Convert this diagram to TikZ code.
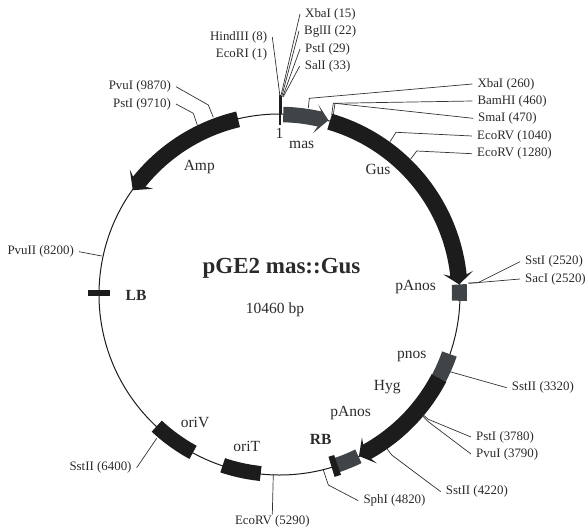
\documentclass[tikz,border=0pt]{standalone}
\usepackage{fontspec}
\setmainfont{Liberation Serif}
\newcommand\bandarc[4]{\draw[line width=#3,color=#4] plot[domain=#1:#2,samples=40] ({279.5+180*sin(\x)},{294.5-180*cos(\x)});}
\newcommand\headtip[4]{\fill[#4,shift={(279.5,294.5)}] ({#1-90}:{180-7}) -- ({#1-0.35*(#2-#1)-90}:{180-#3}) -- ({#2-90}:180) -- ({#1-0.35*(#2-#1)-90}:{180+#3}) -- ({#1-90}:{180+7}) -- cycle;}
\definecolor{ink}{HTML}{1C1C1C}
\definecolor{boxgrey}{HTML}{404447}
\definecolor{txt}{HTML}{2A2A2A}
\definecolor{lead}{HTML}{333333}
\tikzset{
  lab/.style={font=\fontsize{12.9}{14}\selectfont,text=txt,inner xsep=5pt,inner ysep=1pt},
  inner/.style={font=\fontsize{15.5}{17}\selectfont,text=txt,inner sep=0pt},
  innerb/.style={font=\fontsize{15.5}{17}\selectfont\bfseries,text=txt,inner sep=0pt},
  leader/.style={draw=lead,line width=0.7pt}
}
\begin{document}
\begin{tikzpicture}[x=1pt,y=-1pt]
\useasboundingbox (0,0) rectangle (586,528);
\coordinate (c) at (279.5,294.5);
\draw[ink,line width=1pt] (c) circle[radius=180.5];
% features
\bandarc{1.2}{13}{15.5pt}{boxgrey}
\fill[boxgrey,shift={(279.5,294.5)}] ({12.8-90}:172.5) -- ({11.8-90}:165) -- ({15.7-90}:181) -- ({11.5-90}:194) -- ({12.8-90}:188) -- cycle;
\bandarc{16.2}{84.3}{16.5pt}{ink}
\headtip{84}{86.8}{15}{ink}
\bandarc{86.8}{92}{15pt}{boxgrey}
\bandarc{109.3}{117.6}{15.5pt}{boxgrey}
\bandarc{117.6}{151.2}{16.5pt}{ink}
\headtip{151}{153.8}{15}{ink}
\bandarc{154}{161.4}{15pt}{boxgrey}
\bandarc{161.2}{163.2}{21pt}{ink}
\bandarc{186}{198.4}{15pt}{ink}
\bandarc{208.7}{223}{15pt}{ink}
\bandarc{308.5}{346.7}{16pt}{ink}
\headtip{308.7}{305.4}{15}{ink}
\fill[ink] (88.3,289.7) rectangle (110,295.7);
% origin tick
\draw[ink,line width=1.2pt] (280,95) -- (280,125);
\draw[ink,line width=1.2pt] (281.5,96) -- (281.5,114);
% labels
\node[lab,anchor=east] (hind) at (272.3,37) {HindIII (8)};
\node[lab,anchor=east] (ecori) at (272.3,54) {EcoRI (1)};
\node[lab,anchor=west] (xba15) at (300,14) {XbaI (15)};
\node[lab,anchor=west] (bgl) at (299,31) {BglII (22)};
\node[lab,anchor=west] (pst29) at (300,49) {PstI (29)};
\node[lab,anchor=west] (sal) at (299.7,66) {SalI (33)};
\node[lab,anchor=west] (xba260) at (472.3,84) {XbaI (260)};
\node[lab,anchor=west] (bam) at (472.3,101) {BamHI (460)};
\node[lab,anchor=west] (sma) at (473,118.3) {SmaI (470)};
\node[lab,anchor=west] (rv1040) at (472,136) {EcoRV (1040)};
\node[lab,anchor=west] (rv1280) at (472,153.7) {EcoRV (1280)};
\node[lab,anchor=west] (sst) at (520,261.7) {SstI (2520)};
\node[lab,anchor=west] (sac) at (520,279) {SacI (2520)};
\node[lab,anchor=west] (sst3320) at (506.7,387.7) {SstII (3320)};
\node[lab,anchor=west] (pst3780) at (471,437) {PstI (3780)};
\node[lab,anchor=west] (pvu3790) at (471,454) {PvuI (3790)};
\node[lab,anchor=west] (sst4220) at (440.7,491.7) {SstII (4220)};
\node[lab,anchor=west] (sph) at (358.3,500.7) {SphI (4820)};
\node[lab,anchor=north] (rv5290) at (272.3,514.5) {EcoRV (5290)};
\node[lab,anchor=east] (sst6400) at (136.7,467.7) {SstII (6400)};
\node[lab,anchor=east] (pvu8200) at (79,251.7) {PvuII (8200)};
\node[lab,anchor=east] (pvu9870) at (176,86.7) {PvuI (9870)};
\node[lab,anchor=east] (pst9710) at (176,104) {PstI (9710)};
\node[inner] (one) at (279.5,133) {1};
\node[inner] (mas) at (301.7,145) {mas};
\node[inner] (amp) at (199.3,166.7) {Amp};
\node[inner] (gus) at (378,169) {Gus};
\node[inner] (pan1) at (415.7,286.7) {pAnos};
\node[inner] (pnos) at (411.7,356.7) {pnos};
\node[inner] (hyg) at (387.3,387.3) {Hyg};
\node[inner] (pan2) at (350.7,413.3) {pAnos};
\node[innerb] (rb) at (320.7,439.3) {RB};
\node[innerb] (lb) at (136,295) {LB};
\node[inner] (oriv) at (195,422.7) {oriV};
\node[inner] (orit) at (246.7,446.7) {oriT};
\node[inner,font=\fontsize{23}{25}\selectfont\bfseries] (title) at (281.5,268) {pGE2 mas::Gus};
\node[inner] (bp) at (275,309.3) {10460 bp};
% leaders
\draw[leader] (hind.east) -- (280,96.7);
\draw[leader] (xba15.west) -- (280.7,96.7);
\draw[leader] (bgl.west) -- (281.7,96.7);
\draw[leader] (pst29.west) -- (282.7,96.7);
\draw[leader] (sal.west) -- (283.3,96.7);
\draw[leader] (xba260.west) -- (309.3,98.3) -- (308.3,108);
\draw[leader] (bam.west) -- (333.3,103.3) -- (331.7,115);
\draw[leader] (sma.west) -- (335,103.3) -- (333.3,115);
\draw[leader] (rv1040.west) -- (396,132.3) -- (390,141.7);
\draw[leader] (rv1280.west) -- (416.7,151) -- (410.7,159);
\draw[leader] (sst.west) -- (478,282.7) -- (468,283);
\draw[leader] (sac.west) -- (469.3,283.3);
\draw[leader] (sst3320.west) -- (450,371.7);
\draw[leader] (pst3780.west) -- (428.3,419.3) -- (423.3,415);
\draw[leader] (pvu3790.west) -- (428.3,421.7) -- (422.7,416);
\draw[leader] (sst4220.west) -- (391.7,455) -- (386.7,448.3);
\draw[leader] (sph.west) -- (328.3,485) -- (323.3,470);
\draw[leader] (rv5290.north) -- (273.3,474.3);
\draw[leader] (sst6400.east) -- (156.7,438.3);
\draw[leader] (pvu8200.east) -- (101.7,256);
\draw[leader] (pvu9870.east) -- (208.3,105) -- (213.3,117.3);
\draw[leader] (pst9710.east) -- (193.3,113.3) -- (197.3,125);
\end{tikzpicture}
\end{document}
